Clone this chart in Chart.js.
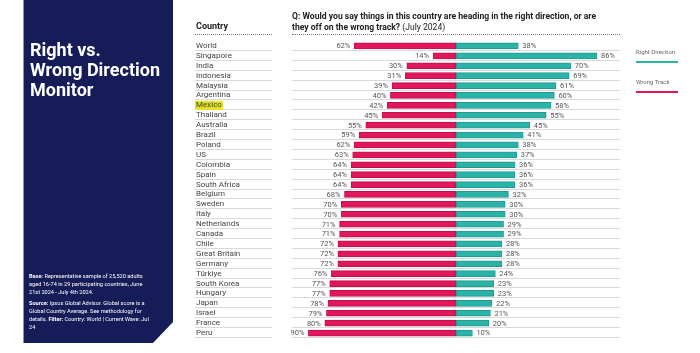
<!DOCTYPE html>
<html>
<head>
<meta charset="utf-8">
<script src="https://cdn.jsdelivr.net/npm/chart.js@4"></script>
<style>
  body { margin: 0; background: #fff; font-family: Roboto, sans-serif; }
  #wrap { position: relative; width: 700px; height: 353px; overflow: hidden; }
  #chart { position: absolute; left: 0; top: 0; }
  .abs { position: absolute; white-space: nowrap; }
  #panel {
    left: 23px; top: 0; width: 150px; height: 343px; background: #161c57;
    border-left: 1px solid #8a8fb0; box-sizing: border-box;
    clip-path: polygon(0 0, 100% 0, 100% 322px, 130px 100%, 0 100%);
  }
  #title { left: 30px; top: 40px; color: #fff; font-weight: 700; font-size: 18px; line-height: 20px; }
  #notes { left: 29px; top: 272px; width: 122px; color: #fff; font-size: 5.6px; line-height: 8px; white-space: normal; }
  #notes p { margin: 0 0 3px 0; }
  #countryHead { left: 196px; top: 21px; font-weight: 700; font-size: 9px; color: #222; }
  #qHead { left: 292px; top: 11px; font-weight: 700; font-size: 8.6px; line-height: 10.5px; color: #222; }
  #qHead span { font-weight: 400; }
  .dots { height: 0; border-top: 1px dotted #777; }
  .legTxt { font-size: 6px; color: #666; }
  .legLine { height: 2px; width: 42px; }
</style>
</head>
<body>
<div id="wrap">
  <canvas id="chart" width="700" height="353"></canvas>
  <div id="panel" class="abs"></div>
  <div id="title" class="abs">Right vs.<br>Wrong Direction<br>Monitor</div>
  <div id="notes" class="abs">
    <p><b>Base:</b> Representative sample of 25,520 adults aged 16-74 in 29 participating countries, June 21st 2024 - July 4th 2024.</p>
    <p><b>Source:</b> Ipsos Global Advisor. Global score is a Global Country Average. See methodology for details. <b>Filter:</b> Country: World | Current Wave: Jul 24</p>
  </div>
  <div id="countryHead" class="abs">Country</div>
  <div id="qHead" class="abs">Q: Would you say things in this country are heading in the right direction, or are<br>they off on the wrong track? <span>(July 2024)</span></div>
  <div class="abs dots" style="left:195px;top:34px;width:77px"></div>
  <div class="abs dots" style="left:292px;top:34px;width:328px"></div>
  <div class="abs legTxt" style="left:636px;top:48px">Right Direction</div>
  <div class="abs legLine" style="left:636px;top:61px;background:#2bb3a8"></div>
  <div class="abs legTxt" style="left:636px;top:78px">Wrong Track</div>
  <div class="abs legLine" style="left:636px;top:91px;background:#e0185a"></div>
</div>
<script>
const countries = ['World', 'Singapore', 'India', 'Indonesia', 'Malaysia', 'Argentina', 'Mexico', 'Thailand',
  'Australia', 'Brazil', 'Poland', 'US', 'Colombia', 'Spain', 'South Africa', 'Belgium', 'Sweden', 'Italy',
  'Netherlands', 'Canada', 'Chile', 'Great Britain', 'Germany', 'Türkiye', 'South Korea', 'Hungary', 'Japan',
  'Israel', 'France', 'Peru'];
const wrongTrack = [62, 14, 30, 31, 39, 40, 42, 45, 55, 59, 62, 63, 64, 64, 64, 68, 70, 70, 71, 71, 72, 72, 72,
  76, 77, 77, 78, 79, 80, 90];
const rightDirection = [38, 86, 70, 69, 61, 60, 58, 55, 45, 41, 38, 37, 36, 36, 36, 32, 30, 30, 29, 29, 28, 28, 28,
  24, 23, 23, 22, 21, 20, 10];
const highlighted = 'Mexico';

const RED = '#e0185a';
const TEAL = '#2bb3a8';

// row separators + highlight behind the Mexico label
const rowLines = {
  id: 'rowLines',
  beforeDraw(chart) {
    const { ctx, chartArea: { left, right }, scales: { y } } = chart;
    const step = y.getPixelForValue(1) - y.getPixelForValue(0);
    ctx.save();
    ctx.strokeStyle = '#d9d9d9';
    ctx.lineWidth = 1;
    countries.forEach((c, i) => {
      const py = Math.round(y.getPixelForValue(i) + step / 2) - 0.5;
      ctx.beginPath();
      ctx.moveTo(y.left - 1, py);
      ctx.lineTo(y.left + 76, py);
      ctx.moveTo(left, py);
      ctx.lineTo(right, py);
      ctx.stroke();
    });
    const hi = countries.indexOf(highlighted);
    ctx.font = '8px Roboto';
    const w = ctx.measureText(highlighted).width;
    ctx.fillStyle = '#e4e31c';
    ctx.fillRect(y.left - 1, y.getPixelForValue(hi) - 4.5, w + 2, 9);
    ctx.restore();
  }
};

// % labels at bar ends
const valueLabels = {
  id: 'valueLabels',
  afterDatasetsDraw(chart) {
    const { ctx } = chart;
    ctx.save();
    ctx.font = '7.5px Roboto';
    ctx.fillStyle = '#555';
    ctx.textBaseline = 'middle';
    chart.data.datasets.forEach((ds, di) => {
      chart.getDatasetMeta(di).data.forEach((bar, i) => {
        const v = Math.abs(ds.data[i]);
        if (di === 0) {
          ctx.textAlign = 'right';
          ctx.fillText(v + '%', bar.x - 4, bar.y + 0.5);
        } else {
          ctx.textAlign = 'left';
          ctx.fillText(v + '%', bar.x + 4, bar.y + 0.5);
        }
      });
    });
    ctx.restore();
  }
};

new Chart(document.getElementById('chart'), {
  type: 'bar',
  plugins: [rowLines, valueLabels],
  data: {
    labels: countries,
    datasets: [
      {
        label: 'Wrong Track',
        data: wrongTrack.map(v => -v),
        backgroundColor: RED,
        borderColor: '#c0104a',
        borderWidth: 1,
        borderSkipped: false,
        barThickness: 6
      },
      {
        label: 'Right Direction',
        data: rightDirection,
        backgroundColor: TEAL,
        borderColor: '#1f9b91',
        borderWidth: 1,
        borderSkipped: false,
        barThickness: 6
      }
    ]
  },
  options: {
    indexAxis: 'y',
    responsive: false,
    animation: false,
    layout: { padding: { left: 196, right: 80, top: 41, bottom: 15 } },
    plugins: { legend: { display: false }, tooltip: { enabled: false } },
    scales: {
      x: { display: false, stacked: true, min: -100, max: 100 },
      y: {
        stacked: true,
        offset: true,
        grid: { display: false },
        border: { display: false },
        afterFit: s => { s.width = 96; },
        ticks: {
          crossAlign: 'far',
          padding: 0,
          autoSkip: false,
          color: '#444',
          font: { family: 'Roboto', size: 8 }
        }
      }
    }
  }
});
</script>
</body>
</html>
